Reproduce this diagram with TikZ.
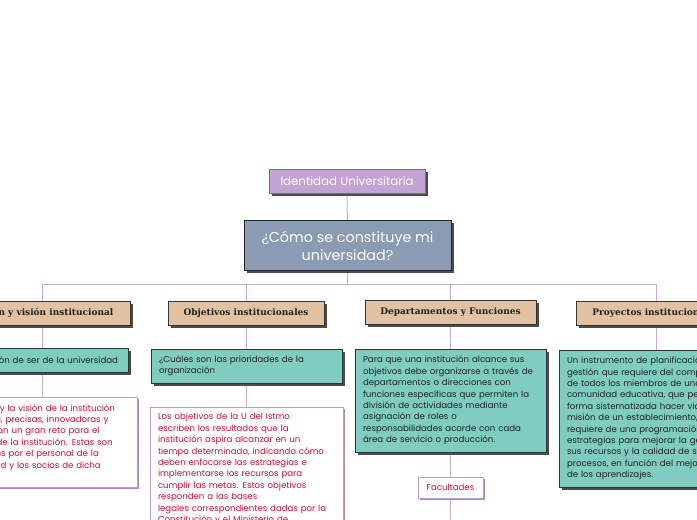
\documentclass[tikz,border=0pt]{standalone}
\usepackage{fontspec}
\setmainfont{Poppins}
\newfontfamily\headfont{DejaVu Serif}
\usetikzlibrary{shadows,backgrounds}
\definecolor{lila}{HTML}{C8A9DB}
\definecolor{idfill}{HTML}{C2A3D4}
\definecolor{mainfill}{HTML}{8A9BB3}
\definecolor{tanfill}{HTML}{E2C2A2}
\definecolor{tealfill}{HTML}{7ECDC0}
\definecolor{redtxt}{HTML}{CC1038}
\definecolor{wbord}{HTML}{B99BD2}
\definecolor{wshadow}{HTML}{A58AC4}
\definecolor{darktxt}{HTML}{222222}
\tikzset{
  darkshadow/.style={drop shadow={shadow xshift=2.5pt,shadow yshift=-2.5pt,fill=black!70,opacity=1}},
  idbox/.style={draw=black!55,line width=0.6pt,fill=idfill,text=white,darkshadow,inner sep=0pt,
    minimum width=156pt,minimum height=24pt,font=\fontsize{11.8}{13}\selectfont},
  mainbox/.style={draw=black!85,line width=0.8pt,fill=mainfill,text=white,darkshadow,inner sep=0pt,
    minimum width=207pt,minimum height=50pt,align=center,font=\fontsize{14.3}{18}\selectfont},
  tanbox/.style={draw=black!80,line width=0.8pt,fill=tanfill,text=darktxt,darkshadow,inner sep=0pt,
    minimum height=24pt,font=\headfont\bfseries\fontsize{9}{10}\selectfont},
  tealbox/.style={draw=black!80,line width=0.8pt,fill=tealfill,text=darktxt,darkshadow,
    inner xsep=8pt,inner ysep=0pt,align=left,font=\fontsize{8.6}{11.4}\selectfont},
  whitebox/.style={draw=wbord,line width=0.8pt,fill=white,text=redtxt,
    drop shadow={shadow xshift=2pt,shadow yshift=-2pt,fill=wshadow,opacity=1},
    inner xsep=8pt,inner ysep=0pt,align=left,font=\fontsize{8.6}{11.4}\selectfont},
  conn/.style={draw=lila,line width=1pt}
}
\begin{document}
\begin{tikzpicture}[x=1pt,y=-1pt]
\useasboundingbox (0,0) rectangle (697,520);
\clip (0,0) rectangle (697,520);

\node[idbox] (idu) at (347,181) {Identidad Universitaria};
\node[mainbox] (main) at (347.5,245.5) {¿Cómo se constituye mi\\universidad?};

\node[tanbox,minimum width=176pt] (l2a) at (42,313) {Misión y visión institucional};
\node[tanbox,minimum width=156pt] (l2b) at (246,313) {Objetivos institucionales};
\node[tanbox,minimum width=171pt] (l2c) at (450.5,312.5) {Departamentos y Funciones};
\node[tanbox,minimum width=160pt] (l2d) at (656,313) {Proyectos institucionales};

\node[tealbox,inner xsep=10pt,text width=152pt,align=right,minimum height=24pt] (l3a) at (42,360) {Razón de ser de la universidad};
\node[tealbox,text width=175pt,minimum height=34pt] (l3b) at (246.5,366) {¿Cuáles son las prioridades de la\\organización};
\node[tealbox,text width=175pt,minimum height=103pt] (l3c) at (450.5,400.5) {Para que una institución alcance sus\\objetivos debe organizarse a través de\\departamentos o direcciones con\\funciones específicas que permiten la\\división de actividades mediante\\asignación de roles o\\responsabilidades acorde con cada\\área de servicio o producción.};
\node[tealbox,text width=178pt,minimum height=137pt] (l3d) at (656,418.5) {Un instrumento de planificación y\\gestión que requiere del compromiso\\de todos los miembros de una\\comunidad educativa, que permite en\\forma sistematizada hacer viable la\\misión de un establecimiento, y que\\requiere de una programación de\\estrategias para mejorar la gestión de\\sus recursos y la calidad de sus\\procesos, en función del mejoramiento\\de los aprendizajes.};

\node[whitebox,text width=173pt,minimum height=90pt] (l4a) at (42.5,442) {La misión y la visión de la institución\\son claras, precisas, innovadoras y\\representan un gran reto para el\\personal de la institución. Estas son\\elaboradas por el personal de la\\universidad y los socios de dicha\\institución};
\node[whitebox,text width=177pt,anchor=north,inner ysep=6pt] (l4b) at (246.5,407) {Los objetivos de la U del Istmo\\escriben los resultados que la\\institución aspira alcanzar en un\\tiempo determinado, indicando cómo\\deben enfocarse las estrategias e\\implementarse los recursos para\\cumplir las metas. Estos objetivos\\responden a las bases\\legales correspondientes dadas por la\\Constitución y el Ministerio de\\Educación.};
\node[whitebox,inner xsep=0pt,minimum width=65pt,minimum height=21pt,align=center] (l4c) at (450.5,487.5) {Facultades};
\coordinate (fend) at (450.5,530);

\begin{scope}[on background layer]
\draw[conn] (idu) -- (main);
\foreach \n in {l2a,l2b,l2c,l2d}
  \draw[conn] (main.south) -- ++(0,13.5) -| (\n.north);
\draw[conn] (l2a.south) -- (l2a.south |- l3a.north);
\draw[conn] (l2b.south) -- (l2b.south |- l3b.north);
\draw[conn] (l2c.south) -- (l2c.south |- l3c.north);
\draw[conn] (l2d.south) -- (l2d.south |- l3d.north);
\draw[conn] (l3a.south) -- (l3a.south |- l4a.north);
\draw[conn] (l3b.south) -- (l3b.south |- l4b.north);
\draw[conn] (l3c.south) -- (l3c.south |- l4c.north);
\draw[conn] (l4c.south) -- (fend);
\end{scope}
\end{tikzpicture}
\end{document}
